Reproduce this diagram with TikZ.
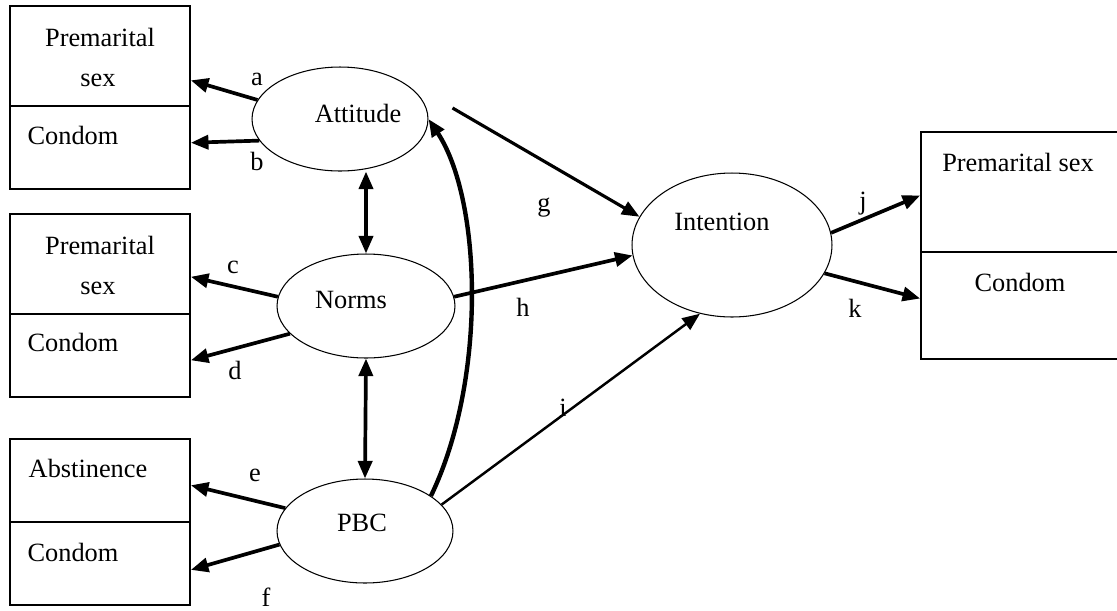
\documentclass[tikz,border=0pt]{standalone}
\usepackage{fontspec}
\setmainfont{Liberation Serif}
\usetikzlibrary{shapes.geometric,arrows.meta}

\tikzset{
    caja/.style={draw, rectangle, line width=1pt, inner sep=0pt},
    elipse/.style={draw, ellipse, line width=0.6pt, inner sep=0pt},
    texto/.style={font=\fontsize{15}{18}\selectfont, inner sep=0pt},
    flecha/.style={-{Triangle[length=10pt,width=8pt]}, line width=2.1pt},
    doble/.style={{Triangle[length=10pt,width=8pt]}-{Triangle[length=10pt,width=8pt]}, line width=2.1pt}
}

\begin{document}
\begin{tikzpicture}[x=0.02cm, y=-0.02cm]
    \useasboundingbox (0,0) rectangle (1117,610);

    % cajas de la izquierda
    \node[caja, minimum width=3.6cm, minimum height=2cm]    (b1top) at (100,56) {};
    \node[caja, minimum width=3.6cm, minimum height=1.66cm] (b1bot) at (100,147.5) {};
    \node[caja, minimum width=3.6cm, minimum height=2cm]    (b2top) at (100,264) {};
    \node[caja, minimum width=3.6cm, minimum height=1.66cm] (b2bot) at (100,355.5) {};
    \node[caja, minimum width=3.6cm, minimum height=1.66cm] (b3top) at (100,480.5) {};
    \node[caja, minimum width=3.6cm, minimum height=1.66cm] (b3bot) at (100,563.5) {};
    % caja de la derecha
    \node[caja, minimum width=3.96cm, minimum height=2.4cm]  (brtop) at (1020,192) {};
    \node[caja, minimum width=3.96cm, minimum height=2.14cm] (brbot) at (1020,305.5) {};

    \node[texto] (t1a) at (100,37) {Premarital};
    \node[texto] (t1b) at (98,80) {sex};
    \node[texto] (t1c) at (73,135) {Condom};
    \node[texto] (t2a) at (100,245) {Premarital};
    \node[texto] (t2b) at (98,288) {sex};
    \node[texto] (t2c) at (73,342) {Condom};
    \node[texto] (t3a) at (88,468) {Abstinence};
    \node[texto] (t3b) at (73,552) {Condom};
    \node[texto] (tra) at (1018,162) {Premarital sex};
    \node[texto] (trb) at (1020,282) {Condom};

    % elipses
    \node[elipse, minimum width=3.52cm, minimum height=2.08cm] (att) at (340,119) {};
    \node[elipse, minimum width=3.56cm, minimum height=2.08cm] (norms) at (366,306) {};
    \node[elipse, minimum width=3.52cm, minimum height=2.08cm] (pbc) at (365,531) {};
    \node[elipse, minimum width=4cm, minimum height=2.88cm] (int) at (732,245) {};

    \node[texto] (tatt) at (358,113) {Attitude};
    \node[texto] (tnorms) at (351,300) {Norms};
    \node[texto] (tpbc) at (362,523) {PBC};
    \node[texto] (tint) at (722,222) {Intention};

    % flechas hacia las cajas
    \draw[flecha] (att.167) -- (b1top.-15);
    \draw[flecha] (att.195) -- (b1bot.3);
    \draw[flecha] (norms.174) -- (b2top.-8);
    \draw[flecha] (norms.200) -- (b2bot.-3);
    \draw[flecha] (pbc.164) -- (b3top.-3);
    \draw[flecha] (pbc.189) -- (b3bot.-4);
    \draw[flecha] (int.7) -- (brtop.182);
    \draw[flecha] (int.-17) -- (brbot.176);

    % correlaciones
    \draw[doble] (norms.north |- att.south) -- (norms.north);
    \draw[doble] (norms.south) -- (pbc.north);
    \draw[flecha, line width=2.5pt] (pbc.28) .. controls (487,380) and (482,200) .. (att.east);

    % hacia la intencion
    \draw[flecha, line width=1.8pt] ([shift={(24,-11)}]att.east) -- (int.163);
    \draw[flecha] (norms.6) -- (int.186);
    \draw[flecha, line width=1.4pt] (pbc.19) -- (int.245);

    % etiquetas
    \foreach \n/\x/\y in {a/257/79, b/257/161, c/233/267, d/235/370, e/255/475,
                          f/266/597, g/544/208, h/523/307, i/563/408, j/863/204, k/855/308}
        \node[texto] (l\n) at (\x,\y) {\n};
\end{tikzpicture}
\end{document}
